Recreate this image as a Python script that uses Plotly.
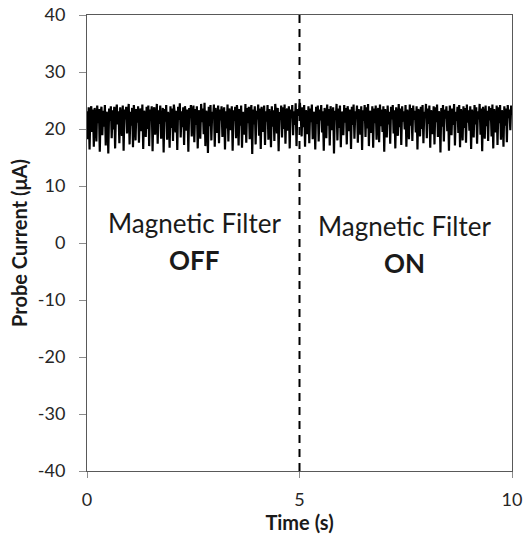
import plotly.graph_objects as go

# Probe current trace (µA), sampled evenly across 0–10 s
current_off = [
    23.1, 18.2, 23.8, 16.4, 22.9, 24.0, 19.5, 23.4, 16.9, 23.7, 22.2, 17.8, 24.1, 21.0, 23.5, 16.0, 22.8, 23.9, 18.9, 23.2, 20.4, 24.2, 17.1, 23.0, 22.5,
    15.7, 23.6, 21.4, 24.0, 18.4, 23.3, 19.9, 23.9, 16.6, 22.7, 24.3, 20.8, 23.1, 17.5, 23.8, 22.0, 18.8, 24.1, 16.2, 23.4, 21.7, 23.9, 19.2, 22.6, 24.4,
    17.3, 23.0, 20.6, 23.7, 16.8, 24.2, 22.3, 18.0, 23.5, 21.1, 24.0, 17.6, 22.9, 23.6, 19.6, 24.3, 16.5, 23.2, 22.4, 18.6, 23.9, 20.0, 24.1, 17.0, 23.4,
    21.8, 24.0, 16.1, 23.1, 23.8, 19.0, 22.6, 24.4, 17.4, 23.3, 20.9, 24.1, 18.3, 22.8, 23.7, 15.9, 23.5, 21.3, 24.2, 18.1, 23.0, 22.1, 16.7, 24.0, 20.2,
    23.6, 17.9, 24.3, 22.7, 19.4, 23.2, 16.3, 23.9, 21.6, 24.5, 18.5, 23.1, 20.3, 23.8, 17.2, 24.0, 22.4, 19.7, 23.4, 16.0, 23.7, 21.9, 24.2, 18.7, 22.9,
    24.1, 17.7, 23.5, 20.7, 24.0, 16.6, 23.3, 22.8, 18.3, 24.4, 21.2, 23.6, 19.1, 24.6, 17.0, 23.2, 22.5, 15.8, 23.9, 20.5, 24.2, 18.0, 23.0, 21.8, 24.3,
    16.9, 23.7, 22.0, 19.3, 24.1, 17.5, 23.4, 21.5, 24.0, 18.6, 22.7, 23.8, 16.4, 23.1, 20.1, 24.3, 17.8, 23.6, 22.3, 19.8, 24.0, 16.2, 23.3, 21.4, 23.9,
    18.4, 24.2, 22.6, 17.1, 23.5, 20.6, 24.1, 16.7, 23.0, 22.2, 19.0, 24.4, 17.6, 23.7, 21.0, 23.9, 18.2, 22.8, 24.2, 15.6, 23.4, 20.8, 24.0, 17.3, 23.2,
    21.7, 24.3, 18.8, 23.6, 16.5, 23.9, 22.4, 19.5, 24.1, 17.2, 23.1, 21.3, 24.2, 18.1, 23.5, 22.0, 16.8, 24.0, 20.4, 23.3, 17.9, 24.4, 22.6, 19.2, 23.7,
    16.1, 23.0, 21.6, 24.1, 18.5, 23.8, 20.0, 24.3, 17.4, 22.9, 23.6, 19.7, 24.0, 16.6, 23.4, 21.9, 24.2, 18.9, 23.1, 20.7, 24.5, 17.0, 23.5, 22.3, 23.9,
]
current_on = [
    24.6, 22.1, 18.7, 23.8, 20.3, 24.2, 16.9, 23.3, 22.6, 19.1, 24.0, 17.5, 23.6, 21.2, 24.3, 18.2, 23.0, 22.7, 16.4, 23.9, 20.9, 24.1, 17.8, 23.4, 21.5,
    24.2, 19.4, 23.1, 16.2, 23.7, 22.4, 18.4, 24.3, 20.6, 23.5, 17.1, 24.0, 22.0, 19.8, 23.8, 15.7, 23.2, 21.6, 24.4, 18.0, 23.6, 20.2, 24.1, 16.8, 23.0,
    22.8, 18.9, 24.2, 21.1, 23.7, 17.3, 24.0, 22.5, 19.6, 23.4, 16.5, 23.9, 20.7, 24.3, 18.3, 23.1, 21.8, 24.1, 17.6, 23.5, 22.2, 19.0, 24.0, 16.3, 23.3,
    21.4, 24.2, 18.6, 23.8, 20.1, 24.4, 17.0, 23.2, 22.7, 19.3, 24.0, 16.7, 23.6, 21.0, 24.1, 18.1, 22.9, 23.7, 17.7, 24.3, 20.5, 23.4, 19.5, 24.0, 16.0,
    23.5, 22.3, 18.5, 24.1, 20.8, 23.0, 17.4, 23.9, 21.7, 24.2, 19.2, 23.3, 16.6, 23.8, 22.1, 18.8, 24.4, 20.3, 23.6, 17.2, 24.0, 21.3, 23.1, 19.9, 24.2,
    16.9, 23.4, 22.0, 18.2, 24.3, 20.6, 23.7, 17.9, 24.1, 21.6, 23.2, 19.4, 24.0, 16.4, 23.5, 22.6, 18.7, 23.9, 20.0, 24.2, 17.5, 23.0, 21.9, 24.4, 18.4,
    23.6, 20.9, 24.1, 16.7, 23.3, 22.4, 19.1, 24.0, 17.3, 23.8, 21.2, 24.3, 18.6, 23.1, 22.7, 15.9, 23.7, 20.4, 24.2, 17.8, 23.4, 21.8, 24.0, 19.6, 23.2,
    16.2, 24.1, 22.2, 18.9, 23.6, 20.7, 24.4, 17.1, 23.0, 21.4, 23.9, 19.3, 24.2, 16.8, 23.5, 22.5, 18.0, 24.0, 20.2, 23.7, 17.6, 24.3, 21.1, 23.3, 19.7,
    24.0, 16.5, 23.4, 22.1, 18.5, 24.2, 20.8, 23.8, 17.4, 23.1, 21.7, 24.4, 19.0, 23.6, 16.1, 23.9, 22.3, 18.3, 24.1, 20.5, 23.2, 17.9, 24.0, 21.5, 23.7,
    18.7, 24.3, 16.6, 23.5, 22.0, 19.4, 24.1, 17.2, 23.8, 21.0, 24.2, 18.1, 23.3, 22.8, 16.9, 24.0, 20.6, 23.6, 17.7, 24.2, 21.9, 23.4, 19.8, 24.1, 22.5,
]
current = current_off + current_on
t_start, t_end = 0.0, 10.0
n = len(current)
time = [t_start + (t_end - t_start) * i / (n - 1) for i in range(n)]

switch_time = 5
x_ticks = [0, 5, 10]
y_ticks = [-40, -30, -20, -10, 0, 10, 20, 30, 40]
y_tick_text = [str(v) for v in y_ticks]  # plain hyphen-minus labels

FONT = "Lato, 'Open Sans', sans-serif"

fig = go.Figure()
fig.add_trace(go.Scatter(
    x=time, y=current, mode="lines",
    line=dict(color="black", width=2.2),
    showlegend=False, hoverinfo="skip",
))

fig.add_shape(type="line", x0=switch_time, x1=switch_time, y0=-40, y1=40,
              xref="x", yref="y", line=dict(color="black", width=2, dash="8px,6px"))

label_font = dict(family=FONT, size=26, color="#1a1a1a")
fig.add_annotation(x=2.52, y=3.5, text="Magnetic Filter", showarrow=False, font=label_font)
fig.add_annotation(x=2.52, y=-3.0, text="<b>OFF</b>", showarrow=False, font=label_font)
fig.add_annotation(x=7.48, y=3.0, text="Magnetic Filter", showarrow=False, font=label_font)
fig.add_annotation(x=7.48, y=-3.5, text="<b>ON</b>", showarrow=False, font=label_font)

axis_common = dict(
    showgrid=False, zeroline=False, showline=True, linecolor="#595959", linewidth=1,
    mirror=True, ticks="outside", tickcolor="#8c8c8c", automargin=False,
    tickfont=dict(family=FONT, size=18, color="#262626"),
)
title_font = dict(family=FONT, size=20, color="#1a1a1a")

fig.update_xaxes(
    range=[0, 10], tickvals=x_ticks, ticklen=6, ticklabelstandoff=6,
    title=dict(text="<b>Time (s)</b>", standoff=6, font=title_font),
    **axis_common,
)
fig.update_yaxes(
    range=[-40, 40], tickvals=y_ticks, ticktext=y_tick_text, ticklen=7, ticklabelstandoff=10,
    title=dict(text="<b>Probe Current (μA)</b>", standoff=4, font=title_font),
    **axis_common,
)

fig.update_layout(
    width=525, height=542,
    margin=dict(l=87, r=13, t=15, b=71),
    paper_bgcolor="white", plot_bgcolor="white",
)

fig.write_html("out.html")
